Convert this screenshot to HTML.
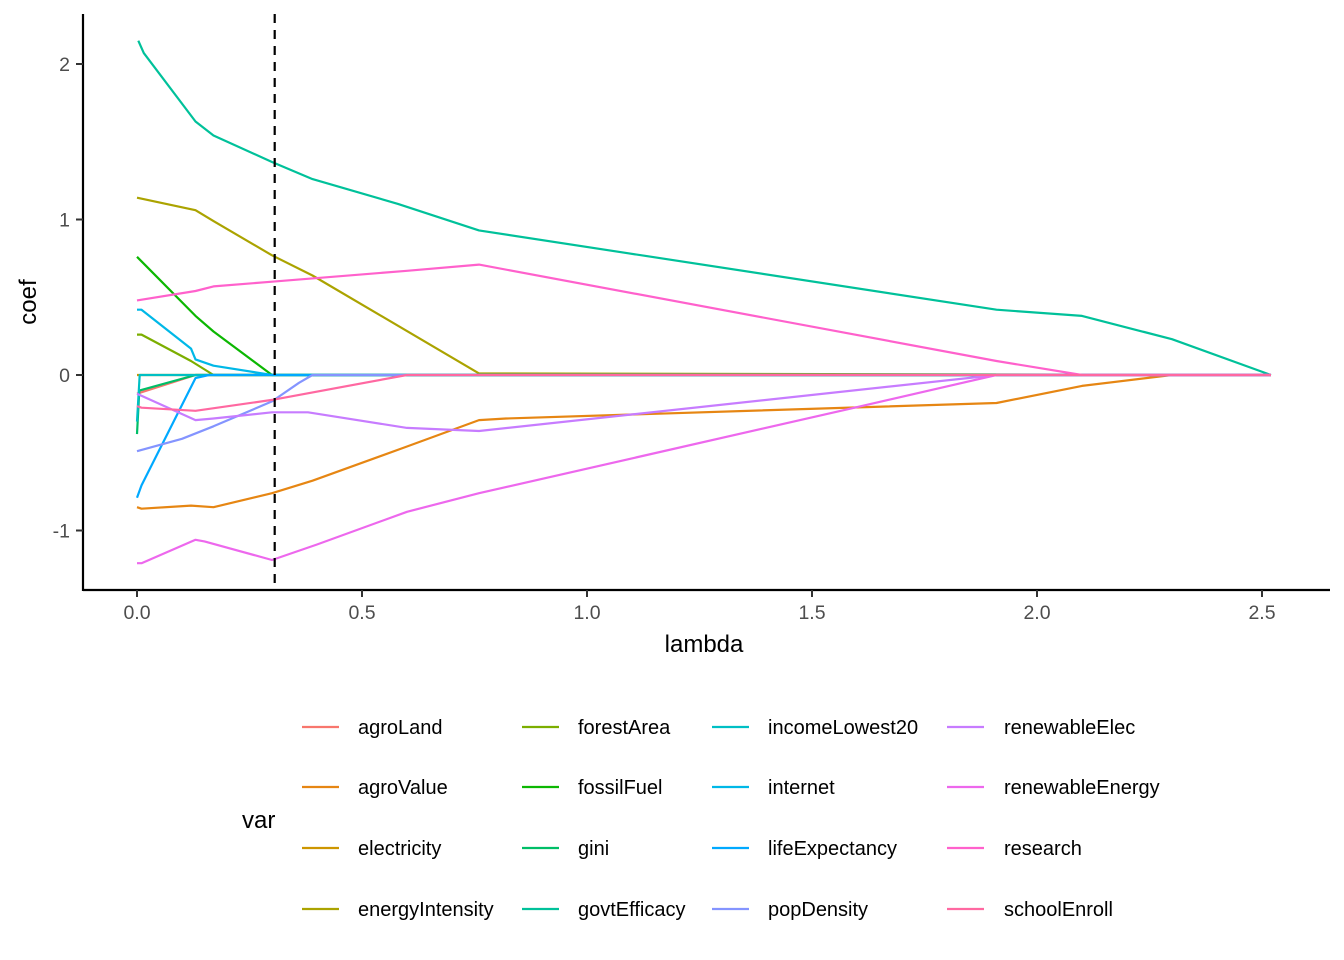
<!DOCTYPE html>
<html><head><meta charset="utf-8"><style>
html,body{margin:0;padding:0;background:#fff;}
svg{display:block;font-family:"Liberation Sans",Arial,sans-serif;}
</style></head><body>
<svg id="chart" width="1344" height="960" viewBox="0 0 1344 960">
<rect width="1344" height="960" fill="#fff"/>
<g id="marks"></g>
<g id="axes"></g>
<text x="704" y="652" font-size="24" text-anchor="middle" fill="#000">lambda</text>
<text transform="translate(36,302) rotate(-90)" font-size="24" text-anchor="middle" fill="#000">coef</text>
<text x="242" y="828" font-size="24" fill="#000">var</text>
<g id="legend"></g>
</svg>
<script>
const seriesNames = ["agroLand","agroValue","electricity","energyIntensity","forestArea","fossilFuel","gini","govtEfficacy","incomeLowest20","internet","lifeExpectancy","popDensity","renewableElec","renewableEnergy","research","schoolEnroll"];
const seriesColors = ["#F8766D","#E68613","#CD9600","#ABA300","#7CAE00","#0CB702","#00BE67","#00C19A","#00BFC4","#00B8E7","#00A9FF","#8494FF","#C77CFF","#ED68ED","#FF61CC","#FF68A1"];
const lambdaAgroLand = [0,0.13,2.52];
const coefAgroLand = [-0.12,0,0];
const lambdaAgroValue = [0,0.01,0.12,0.17,0.3,0.39,0.6,0.76,0.82,1.91,2.1,2.3,2.52];
const coefAgroValue = [-0.85,-0.86,-0.84,-0.85,-0.76,-0.68,-0.46,-0.29,-0.28,-0.18,-0.07,0,0];
const lambdaElectricity = [0,2.52];
const coefElectricity = [0,0];
const lambdaEnergyIntensity = [0,0.13,0.17,0.3,0.39,0.76,2.52];
const coefEnergyIntensity = [1.14,1.06,0.99,0.77,0.64,0.01,0];
const lambdaForestArea = [0,0.01,0.12,0.17,2.52];
const coefForestArea = [0.26,0.26,0.09,0,0];
const lambdaFossilFuel = [0,0.13,0.17,0.3,2.52];
const coefFossilFuel = [0.76,0.38,0.28,0,0];
const lambdaGini = [0,0.005,0.13,2.52];
const coefGini = [-0.38,-0.1,0,0];
const lambdaGovtEfficacy = [0.003,0.015,0.13,0.17,0.3,0.39,0.58,0.76,1.91,2.1,2.3,2.52];
const coefGovtEfficacy = [2.15,2.07,1.63,1.54,1.37,1.26,1.1,0.93,0.42,0.38,0.23,0];
const lambdaIncomeLowest20 = [0,0.006,2.52];
const coefIncomeLowest20 = [-0.3,0,0];
const lambdaInternet = [0,0.01,0.12,0.13,0.17,0.3,2.52];
const coefInternet = [0.42,0.42,0.17,0.1,0.06,0,0];
const lambdaLifeExpectancy = [0,0.01,0.13,0.16,2.52];
const coefLifeExpectancy = [-0.79,-0.71,-0.02,0,0];
const lambdaPopDensity = [0,0.1,0.17,0.3,0.36,0.39,2.52];
const coefPopDensity = [-0.49,-0.41,-0.33,-0.17,-0.05,0,0];
const lambdaRenewableElec = [0,0.13,0.17,0.3,0.38,0.6,0.76,1.91,2.52];
const coefRenewableElec = [-0.12,-0.29,-0.28,-0.24,-0.24,-0.34,-0.36,0,0];
const lambdaRenewableEnergy = [0,0.01,0.13,0.15,0.3,0.4,0.6,0.76,1.58,1.91,2.52];
const coefRenewableEnergy = [-1.21,-1.21,-1.06,-1.07,-1.19,-1.09,-0.88,-0.76,-0.22,0,0];
const lambdaResearch = [0,0.13,0.17,0.3,0.6,0.76,1.91,2.1,2.52];
const coefResearch = [0.48,0.54,0.57,0.6,0.67,0.71,0.09,0,0];
const lambdaSchoolEnroll = [0,0.01,0.13,0.3,0.6,2.52];
const coefSchoolEnroll = [-0.2,-0.21,-0.23,-0.16,0,0];
const xTicks = [0,0.5,1,1.5,2,2.5];
const xTickLabels = ["0.0","0.5","1.0","1.5","2.0","2.5"];
const yTicks = [-1,0,1,2];
const yTickLabels = ["-1","0","1","2"];
const selectedLambda = 0.306;

const allLambdas = [lambdaAgroLand,lambdaAgroValue,lambdaElectricity,lambdaEnergyIntensity,lambdaForestArea,lambdaFossilFuel,lambdaGini,lambdaGovtEfficacy,lambdaIncomeLowest20,lambdaInternet,lambdaLifeExpectancy,lambdaPopDensity,lambdaRenewableElec,lambdaRenewableEnergy,lambdaResearch,lambdaSchoolEnroll];
const allCoefs = [coefAgroLand,coefAgroValue,coefElectricity,coefEnergyIntensity,coefForestArea,coefFossilFuel,coefGini,coefGovtEfficacy,coefIncomeLowest20,coefInternet,coefLifeExpectancy,coefPopDensity,coefRenewableElec,coefRenewableEnergy,coefResearch,coefSchoolEnroll];

const NS="http://www.w3.org/2000/svg";
function xs(v){return 137+450*v;}
function ys(v){return 375-155.5*v;}
function mk(tag,attrs,parent){const e=document.createElementNS(NS,tag);for(const k in attrs)e.setAttribute(k,attrs[k]);parent.appendChild(e);return e;}

const marks=document.getElementById('marks');
const axes=document.getElementById('axes');
const legend=document.getElementById('legend');

for(let i=0;i<seriesNames.length;i++){
  const pts=allLambdas[i].map((l,j)=>xs(l).toFixed(1)+","+ys(allCoefs[i][j]).toFixed(1)).join(" ");
  const pl=mk('polyline',{points:pts,fill:'none',stroke:seriesColors[i],'stroke-width':2.2,'stroke-linejoin':'round'},marks);
  
  
}
const vl=mk('line',{x1:xs(selectedLambda),x2:xs(selectedLambda),y1:14,y2:590,stroke:'#000','stroke-width':2.2,'stroke-dasharray':'9,7'},marks);



const xa=mk('line',{x1:83,x2:1330,y1:590,y2:590,stroke:'#000','stroke-width':2.2},axes);


const ya=mk('line',{x1:83,x2:83,y1:14,y2:591,stroke:'#000','stroke-width':2.2},axes);


xTicks.forEach((t,i)=>{
  const tk=mk('line',{x1:xs(t),x2:xs(t),y1:590,y2:597,stroke:'#333','stroke-width':2},axes);
  
  
  const tl=mk('text',{x:xs(t),y:619,'font-size':19.5,'text-anchor':'middle',fill:'#4d4d4d'},axes);
  tl.textContent=xTickLabels[i];
  
  
});
yTicks.forEach((t,i)=>{
  const tk=mk('line',{x1:76,x2:83,y1:ys(t),y2:ys(t),stroke:'#333','stroke-width':2},axes);
  
  
  const tl=mk('text',{x:70,y:ys(t)+7,'font-size':19.5,'text-anchor':'end',fill:'#4d4d4d'},axes);
  tl.textContent=yTickLabels[i];
  
  
});
const colKeyX=[302,522,712,947];
const colLabelX=[358,578,768,1004];
const rowY=[727,787,848,909];
seriesNames.forEach((n,i)=>{
  const c=Math.floor(i/4),r=i%4;
  const g=mk('g',{},legend);
  
  
  mk('line',{x1:colKeyX[c],x2:colKeyX[c]+37,y1:rowY[r],y2:rowY[r],stroke:seriesColors[i],'stroke-width':2.2},g);
  const t=mk('text',{x:colLabelX[c],y:rowY[r]+7,'font-size':20,fill:'#000'},g);
  t.textContent=n;
});
</script>
</body></html>
